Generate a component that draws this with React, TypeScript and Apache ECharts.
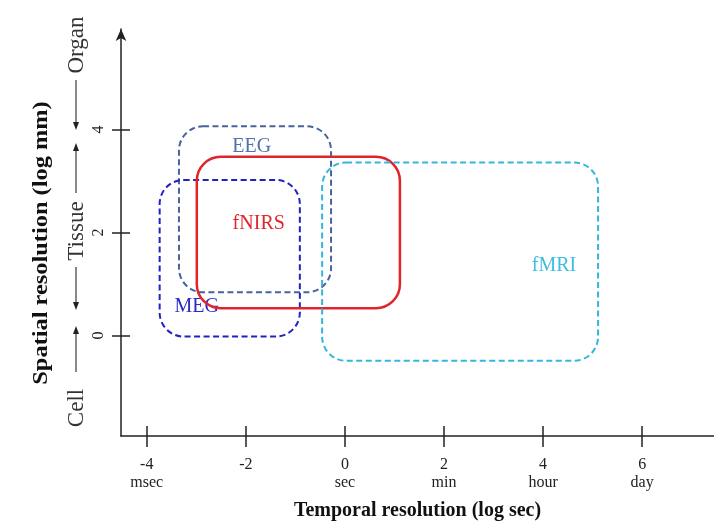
import React, { useEffect, useRef } from "react";
import * as echarts from "echarts";

const methods = ["EEG", "MEG", "fNIRS", "fMRI"];
const tMin = [-3.35, -3.74, -2.99, -0.46];
const tMax = [-0.28, -0.91, 1.11, 5.11];
const sMin = [0.84, -0.02, 0.53, -0.49];
const sMax = [4.06, 3.02, 3.47, 3.36];
const labelT = [-1.88, -2.99, -1.74, 4.22];
const labelS = [3.69, 0.59, 2.2, 1.39];
const strokeColors = ["#46639a", "#2222c4", "#e0242c", "#35b6da"];
const textColors = ["#5272aa", "#2a2ac8", "#e0262e", "#40bde0"];
const solid = [false, false, true, false];

const xTickValues = [-4, -2, 0, 2, 4, 6];
const xTickUnits = ["msec", "", "sec", "min", "hour", "day"];
const yTickValues = [0, 2, 4];

const FONT = "Liberation Serif";

export default function App() {
  const ref = useRef<HTMLDivElement>(null);
  useEffect(() => {
    const chart = echarts.init(ref.current!, null, { renderer: "svg" });
    const data = methods.map((m, i) => [tMin[i], tMax[i], sMin[i], sMax[i], labelT[i], labelS[i]]);
    const arrowColor = "#3a3a3a";
    const ax = 76;
    const arrow = (y1: number, y2: number, tipY: number, dir: number) => [
      { type: "line", shape: { x1: ax, y1, x2: ax, y2 }, style: { stroke: arrowColor, lineWidth: 1.2 } },
      {
        type: "polygon",
        shape: { points: [[ax - 3, tipY - dir * 8], [ax + 3, tipY - dir * 8], [ax, tipY]] },
        style: { fill: "#222" },
      },
    ];
    const sideText = (text: string, y: number) => ({
      type: "text",
      x: 75,
      y,
      rotation: Math.PI / 2,
      style: { text, fill: "#333", font: `23px '${FONT}'`, align: "center", verticalAlign: "middle" },
    });
    const option: any = {
      animation: false,
      grid: { left: 121, right: 0, top: 29, bottom: 83 },
      xAxis: [
        {
          type: "value",
          min: -4.52,
          max: 7.45,
          splitLine: { show: false },
          axisLine: { show: true, onZero: false, lineStyle: { color: "#222", width: 1.5 } },
          axisTick: { show: true, customValues: xTickValues, length: 11, lineStyle: { color: "#222", width: 1.5 } },
          axisLabel: {
            customValues: xTickValues,
            margin: 18,
            color: "#222",
            fontFamily: FONT,
            fontSize: 16,
            lineHeight: 18,
            formatter: (v: number) => {
              const i = xTickValues.indexOf(Math.round(v));
              const u = i >= 0 ? xTickUnits[i] : "";
              return u ? `${Math.round(v)}\n${u}` : `${Math.round(v)}\n `;
            },
          },
          name: "Temporal resolution (log sec)",
          nameLocation: "middle",
          nameGap: 63,
          nameTextStyle: { fontFamily: FONT, fontSize: 20, fontWeight: "bold", color: "#111" },
        },
        {
          type: "value",
          min: -4.52,
          max: 7.45,
          position: "bottom",
          splitLine: { show: false },
          axisLine: { show: false, onZero: false },
          axisLabel: { show: false },
          axisTick: { show: true, inside: true, customValues: xTickValues, length: 10, lineStyle: { color: "#222", width: 1.5 } },
        },
      ],
      yAxis: [
        {
          type: "value",
          min: -1.95,
          max: 5.95,
          splitLine: { show: false },
          axisLine: {
            show: true,
            onZero: false,
            symbol: ["none", "arrow"],
            symbolSize: [8, 12],
            lineStyle: { color: "#222", width: 1.5 },
          },
          axisTick: { show: true, customValues: yTickValues, length: 9, lineStyle: { color: "#222", width: 1.5 } },
          axisLabel: {
            customValues: yTickValues,
            rotate: 90,
            margin: 16,
            color: "#222",
            fontFamily: FONT,
            fontSize: 16,
          },
        },
        {
          type: "value",
          min: -1.95,
          max: 5.95,
          position: "left",
          splitLine: { show: false },
          axisLine: { show: false, onZero: false },
          axisLabel: { show: false },
          axisTick: { show: true, inside: true, customValues: yTickValues, length: 9, lineStyle: { color: "#222", width: 1.5 } },
        },
      ],
      graphic: [
        {
          type: "text",
          x: 40,
          y: 243,
          rotation: Math.PI / 2,
          scaleX: 1.22,
          style: {
            text: "Spatial resolution (log mm)",
            fill: "#111",
            font: `bold 20px '${FONT}'`,
            align: "center",
            verticalAlign: "middle",
          },
        },
        sideText("Organ", 45),
        ...arrow(80, 124, 130, 1),
        ...arrow(151, 193, 143, -1),
        sideText("Tissue", 231),
        ...arrow(267, 304, 310, 1),
        ...arrow(334, 372, 326, -1),
        sideText("Cell", 408),
      ],
      series: [
        {
          type: "custom",
          data,
          encode: { x: [0, 1], y: [2, 3] },
          clip: false,
          renderItem: (params: any, api: any) => {
            const i = params.dataIndex;
            const p1 = api.coord([api.value(0), api.value(3)]);
            const p2 = api.coord([api.value(1), api.value(2)]);
            const pl = api.coord([api.value(4), api.value(5)]);
            return {
              type: "group",
              children: [
                {
                  type: "rect",
                  shape: { x: p1[0], y: p1[1], width: p2[0] - p1[0], height: p2[1] - p1[1], r: 24 },
                  style: {
                    fill: "none",
                    stroke: strokeColors[i],
                    lineWidth: solid[i] ? 2.5 : 2,
                    lineDash: solid[i] ? null : [6, 3.5],
                  },
                },
                {
                  type: "text",
                  x: pl[0],
                  y: pl[1],
                  style: {
                    text: methods[i],
                    fill: textColors[i],
                    font: `20px '${FONT}'`,
                    align: "center",
                    verticalAlign: "middle",
                  },
                },
              ],
            };
          },
        },
      ],
    };
    chart.setOption(option);
    return () => chart.dispose();
  }, []);
  return <div ref={ref} style={{ position: "fixed", left: 0, top: 0, width: 714, height: 524 }} />;
}
